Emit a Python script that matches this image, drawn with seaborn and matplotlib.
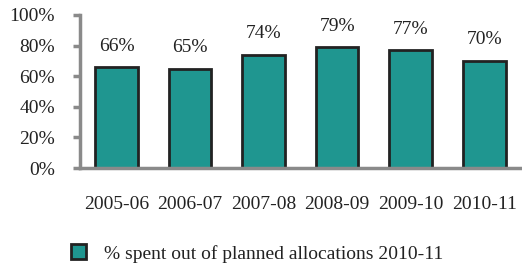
import matplotlib
matplotlib.use("Agg")
import matplotlib.pyplot as plt
import seaborn as sns
import pandas as pd
from matplotlib.ticker import PercentFormatter

categories = ["2005-06", "2006-07", "2007-08", "2008-09", "2009-10", "2010-11"]
values = [66, 65, 74, 79, 77, 70]
labels = ["66%", "65%", "74%", "79%", "77%", "70%"]
series_name = "% spent out of planned allocations 2010-11"

sns.set_theme(style="white")
plt.rcParams['font.family'] = ['Liberation Serif', 'DejaVu Serif']

df = pd.DataFrame({"year": categories, "value": values, "series": series_name})

fig = plt.figure(figsize=(5.22, 2.63), dpi=100)
ax = fig.add_axes([0.153, 0.361, 0.845, 0.582])
color = "#1f9690"
sns.barplot(data=df, x="year", y="value", hue="series", palette=[color],
            saturation=1, width=0.58, edgecolor="#222222", linewidth=2,
            ax=ax, legend=True)

fs = 14
ax.set_ylim(0, 100)
ax.set_xlim(-0.5, 5.5)
ax.set_yticks([0, 20, 40, 60, 80, 100])
ax.yaxis.set_major_formatter(PercentFormatter(decimals=0))
ax.set_xlabel("")
ax.set_ylabel("")
for s in ["top", "right"]:
    ax.spines[s].set_visible(False)
for s in ["left", "bottom"]:
    ax.spines[s].set_color("#8a8a8a")
    ax.spines[s].set_linewidth(2.5)
ax.tick_params(axis="y", left=True, length=5, width=2.5, color="#8a8a8a",
               labelsize=fs, labelcolor="#222222", pad=13)
ax.tick_params(axis="x", bottom=False, labelsize=fs, labelcolor="#222222", pad=14)

for i, (v, lab) in enumerate(zip(values, labels)):
    ax.annotate(lab, (i, v), xytext=(0, 9), textcoords="offset points",
                ha="center", va="bottom", fontsize=fs, color="#222222")

leg = ax.legend(loc="upper left", bbox_to_anchor=(-0.06, -0.385), frameon=False,
                fontsize=fs, handlelength=0.8, handleheight=0.8, handletextpad=0.9,
                labelcolor="#222222")

fig.savefig("out.png", dpi=100)
